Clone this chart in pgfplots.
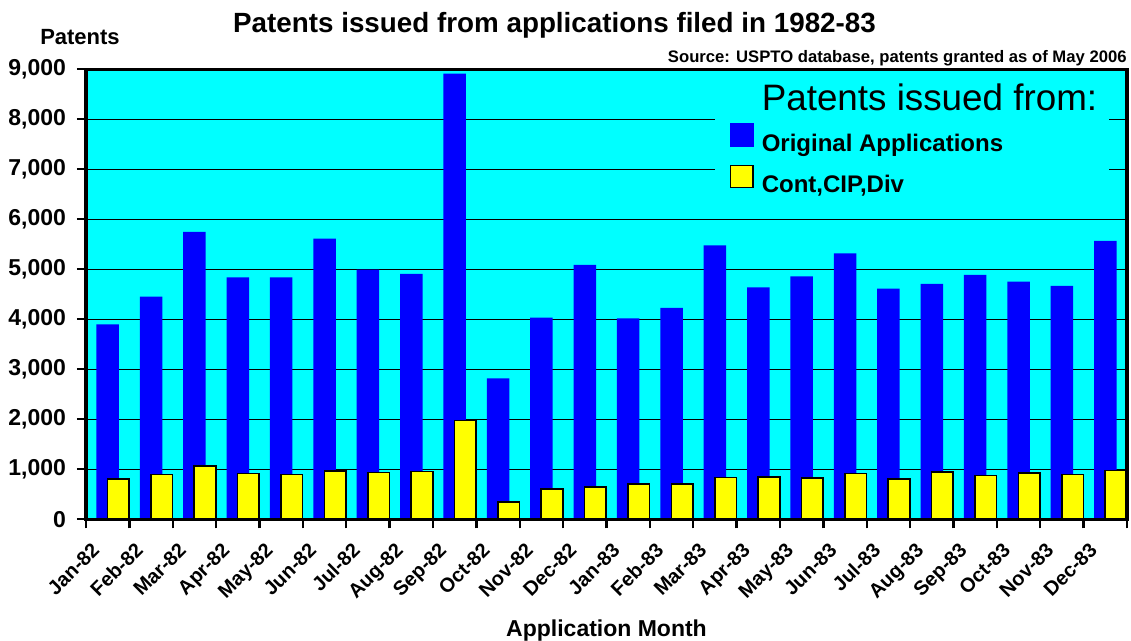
\documentclass[border=0pt]{standalone}
\usepackage{fontspec}
\setmainfont{Liberation Sans}
\setsansfont{Liberation Sans}
\usepackage{pgfplots}
\pgfplotsset{compat=1.18}
\usepackage{pgfplotstable}
\definecolor{bgcyan}{RGB}{0,255,255}
\definecolor{barblue}{RGB}{0,0,255}
\definecolor{baryellow}{RGB}{255,255,0}

\pgfplotstableread{
x orig cont
0 3900 806
1 4453 893
2 5746 1066
3 4840 913
4 4840 893
5 5613 960
6 4993 933
7 4906 953
8 8913 1973
9 2820 340
10 4033 600
11 5086 640
12 4020 706
13 4226 700
14 5480 833
15 4640 846
16 4860 820
17 5320 913
18 4613 806
19 4706 940
20 4886 873
21 4753 920
22 4666 893
23 5566 973
}\datatable

\begin{document}
\begin{tikzpicture}
\useasboundingbox (-43pt,-60.85pt) rectangle (522.5pt,259.65pt);
\begin{axis}[
  scale only axis, width=520.5pt, height=225pt,
  xmin=-0.5, xmax=23.5, ymin=0, ymax=9000,
  clip=false,
  axis background/.style={fill=bgcyan},
  axis line style={line width=1.75pt},
  tick pos=left, tick align=outside,
  ytick={0,1000,...,9000},
  scaled y ticks=false,
  /pgf/number format/.cd, fixed, 1000 sep={,}, assume math mode=true,
  /pgfplots/.cd,
  ymajorgrids, major grid style={black, line width=0.5pt},
  xtick={0,...,23},
  xticklabels={Jan-82,Feb-82,Mar-82,Apr-82,May-82,Jun-82,Jul-82,Aug-82,Sep-82,Oct-82,Nov-82,Dec-82,Jan-83,Feb-83,Mar-83,Apr-83,May-83,Jun-83,Jul-83,Aug-83,Sep-83,Oct-83,Nov-83,Dec-83},
  minor xtick={-0.5,0.5,...,23.5},
  major x tick style={draw=none},
  minor x tick style={black, line width=1.2pt},
  major y tick style={black, line width=1.2pt},
  major tick length=4.5pt, minor tick length=4.5pt,
  yticklabel style={font=\fontsize{11.5}{11.5}\selectfont\bfseries, xshift=-2pt},
  xticklabel style={font=\fontsize{10}{10}\selectfont\bfseries, xshift=-8.5pt, yshift=-6.3pt, rotate=45, anchor=north east, inner sep=0pt},
  title={Patents issued from applications filed in 1982-83},
  title style={font=\fontsize{13.9}{14}\selectfont\bfseries, at={(rel axis cs:0,1)}, anchor=base, xshift=234.25pt, yshift=12.5pt, inner sep=0pt},
  ylabel={Patents},
  every axis y label/.style={at={(rel axis cs:0,1)}, anchor=base, xshift=-3pt, yshift=12.5pt, inner sep=0pt, font=\fontsize{11}{11}\selectfont\bfseries},
  xlabel={Application Month},
  every axis x label/.style={at={(rel axis cs:0.5,0)}, anchor=base, yshift=-58.7pt, inner sep=0pt, font=\fontsize{11.5}{12}\selectfont\bfseries},
  legend cell align=left,
  legend style={at={(rel axis cs:0.604,0.974)}, anchor=north west, fill=bgcyan, draw=none,
    inner xsep=4pt, inner ysep=2pt, row sep=0.5pt,
    font=\fontsize{12}{12}\selectfont\bfseries,
    nodes={text height=9pt, text depth=2.5pt, inner ysep=3.5pt}},
]
\addlegendimage{empty legend}
\addlegendentry{\fontsize{18.4}{18}\selectfont\mdseries Patents issued from:}
\addplot[ybar, bar width=0.52, bar shift=0, fill=barblue, draw=none,
  legend image code/.code={\path (0pt,0pt) (16.5pt,0pt); \fill[barblue] (3pt,-1pt) rectangle (15pt,11pt);}]
  table[x=x, y=orig]{\datatable};
\addlegendentry{Original Applications}
\addplot[ybar, bar width=0.5, bar shift=0.245, fill=baryellow, draw=black, line width=0.8pt,
  legend image code/.code={\path (0pt,0pt) (16.5pt,0pt); \draw[fill=baryellow, draw=black, line width=0.8pt] (3.3pt,-0.6pt) rectangle (14.5pt,10.3pt);}]
  table[x=x, y=cont]{\datatable};
\addlegendentry{Cont,CIP,Div}
\draw[line width=1.75pt] (rel axis cs:0,0) rectangle (rel axis cs:1,1);
\node[anchor=base east, inner sep=0pt, font=\fontsize{8.33}{9}\selectfont\bfseries] at (rel axis cs:1,1) [yshift=3.3pt] {Source: USPTO database, patents granted as of May 2006};
\end{axis}
\end{tikzpicture}
\end{document}
